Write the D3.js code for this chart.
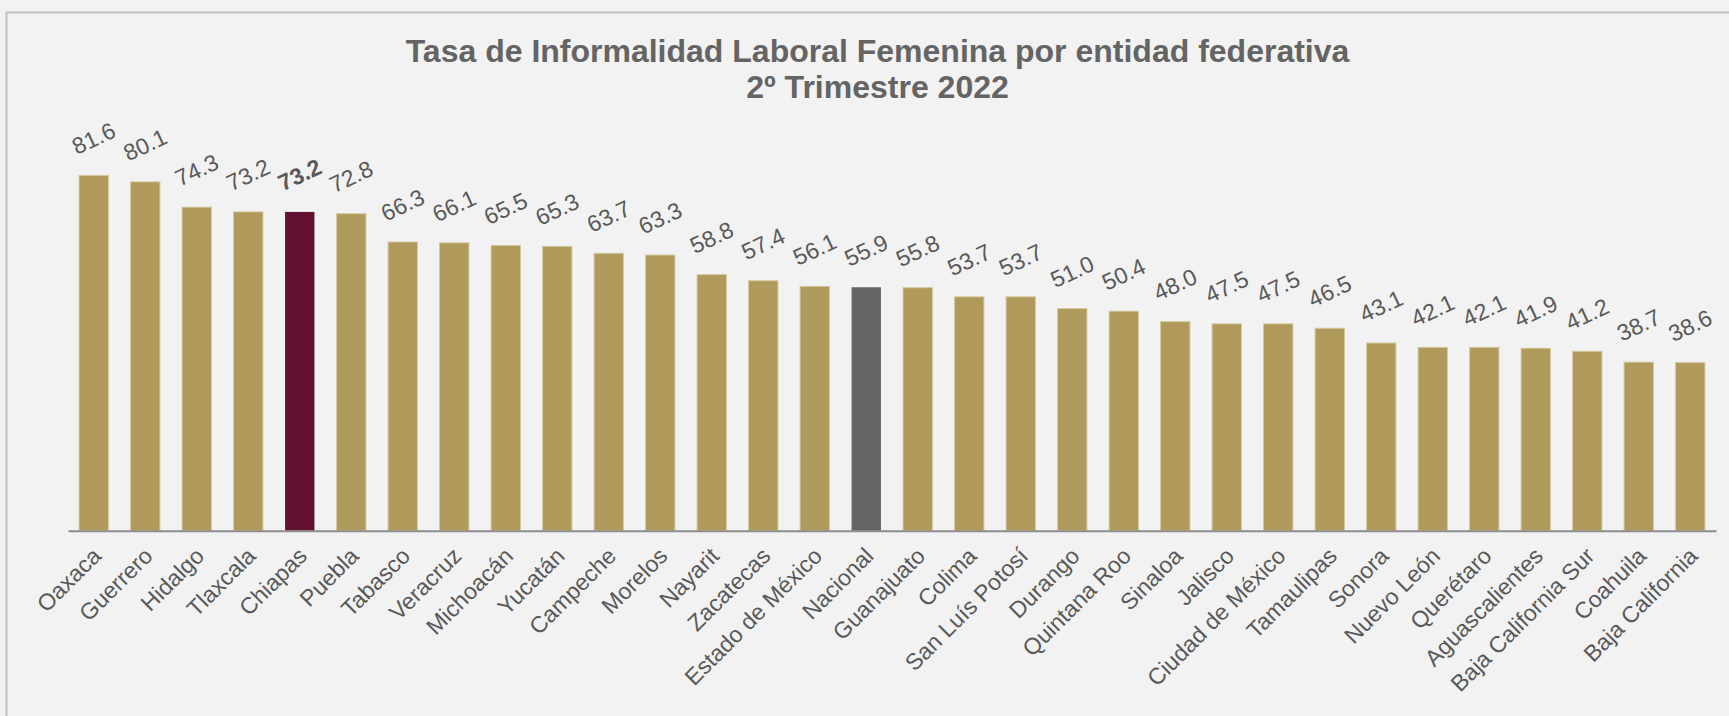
<!DOCTYPE html>
<html>
<head>
<meta charset="utf-8">
<script src="https://cdn.jsdelivr.net/npm/d3@7"></script>
<style>
  html, body { margin: 0; padding: 0; background: #f2f2f2; overflow: hidden; }
  svg { display: block; font-family: "Liberation Sans", Arial, sans-serif; }
</style>
</head>
<body>
<svg id="chart"></svg>
<script>
var estados = ["Oaxaca", "Guerrero", "Hidalgo", "Tlaxcala", "Chiapas", "Puebla", "Tabasco", "Veracruz",
    "Michoacán", "Yucatán", "Campeche", "Morelos", "Nayarit", "Zacatecas", "Estado de México", "Nacional",
    "Guanajuato", "Colima", "San Luís Potosí", "Durango", "Quintana Roo", "Sinaloa", "Jalisco",
    "Ciudad de México", "Tamaulipas", "Sonora", "Nuevo León", "Querétaro", "Aguascalientes",
    "Baja California Sur", "Coahuila", "Baja California"];
var tasas = [81.6, 80.1, 74.3, 73.2, 73.2, 72.8, 66.3, 66.1, 65.5, 65.3, 63.7, 63.3, 58.8, 57.4, 56.1, 55.9,
    55.8, 53.7, 53.7, 51.0, 50.4, 48.0, 47.5, 47.5, 46.5, 43.1, 42.1, 42.1, 41.9, 41.2, 38.7, 38.6];
var tituloLineas = ["Tasa de Informalidad Laboral Femenina por entidad federativa", "2º Trimestre 2022"];
var destacado = "Chiapas";
var nacional = "Nacional";

var svgWidth = 1729;
var svgHeight = 716;
var baseY = 530.7;

var svg = d3.select("#chart")
    .attr("width", svgWidth)
    .attr("height", svgHeight);

svg.append("rect")
    .attr("width", svgWidth)
    .attr("height", svgHeight)
    .style("fill", "#f2f2f2");

// marco (se sale por la derecha y abajo)
svg.append("rect")
    .attr("x", 6.5)
    .attr("y", 12.5)
    .attr("width", svgWidth + 20)
    .attr("height", svgHeight + 20)
    .style("fill", "none")
    .style("stroke", "#c0c0c0")
    .style("stroke-width", "2px");

var data = estados.map(function(d, i){ return {estado: d, tasa: tasas[i]}; });

var xScale = d3.scaleBand()
    .domain(estados)
    .range([68, 1716])
    .paddingInner(0.43)
    .paddingOuter(0.215);

var yScale = d3.scaleLinear()
    .domain([0, 100])
    .range([baseY, baseY - 435.5]);

var colorBarra = function(d){
    if(d.estado == destacado) return "#621132";
    if(d.estado == nacional) return "#646464";
    return "#af995b";
};

svg.append("g")
    .selectAll("rect")
    .data(data)
    .enter()
    .append("rect")
    .attr("x", function(d){ return xScale(d.estado); })
    .attr("y", function(d){ return yScale(d.tasa); })
    .attr("width", xScale.bandwidth())
    .attr("height", function(d){ return yScale(0) - yScale(d.tasa); })
    .style("fill", colorBarra)
    .style("stroke", function(d){ return (d.estado == destacado || d.estado == nacional) ? "none" : "#d6c99f"; })
    .style("stroke-width", "1px");

// etiquetas de valor
svg.append("g")
    .selectAll("text")
    .data(data)
    .enter()
    .append("text")
    .attr("transform", function(d){
        var cx = xScale(d.estado) + xScale.bandwidth() / 2;
        var cy = yScale(d.tasa) - 37;
        return "translate(" + cx + "," + cy + ") rotate(-25)";
    })
    .attr("text-anchor", "middle")
    .attr("dominant-baseline", "central")
    .attr("fill", "#595959")
    .attr("font-size", "23px")
    .attr("font-weight", function(d){ return d.estado == destacado ? "bold" : "normal"; })
    .text(function(d){ return d.tasa.toFixed(1); });

// eje x
var xAxis = svg.append("g")
    .attr("class", "xAxis")
    .attr("transform", "translate(0," + baseY + ")")
    .call(d3.axisBottom(xScale).tickSize(0).tickPadding(0));

xAxis.select(".domain")
    .attr("stroke", "#8c8c8c")
    .attr("stroke-width", "2px");

xAxis.selectAll(".tick")
    .select("text")
    .attr("fill", "#595959")
    .attr("font-size", "23px")
    .attr("font-family", "Liberation Sans, Arial, sans-serif")
    .attr("text-anchor", "end")
    .attr("dy", "0.35em")
    .attr("transform", "translate(3,21) rotate(-45)");

// titulo
svg.append("g")
    .selectAll("text")
    .data(tituloLineas)
    .enter()
    .append("text")
    .attr("x", 877.5)
    .attr("y", function(d, i){ return 61.7 + i * 36; })
    .attr("text-anchor", "middle")
    .attr("fill", "#646464")
    .attr("font-size", "32px")
    .attr("font-weight", "bold")
    .text(function(d){ return d; });
</script>
</body>
</html>
